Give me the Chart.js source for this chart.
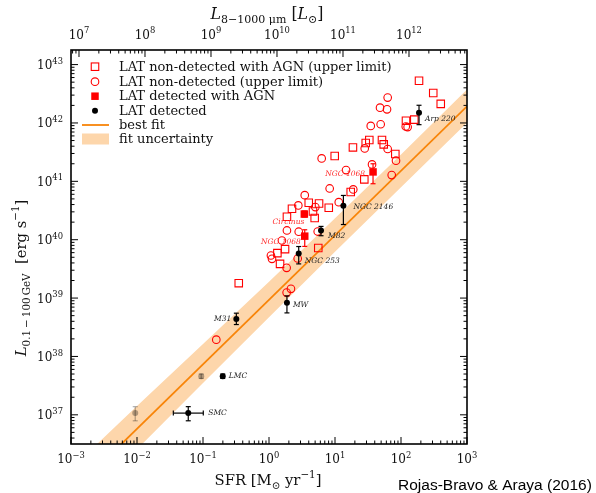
<!DOCTYPE html>
<html>
<head>
<meta charset="utf-8">
<script src="https://cdn.jsdelivr.net/npm/chart.js@4.4.1/dist/chart.umd.min.js"></script>
<style>
  html, body { margin: 0; padding: 0; background: #fff; }
  #wrap { width: 596px; height: 493px; position: relative; }
</style>
</head>
<body>
<div id="wrap"><canvas id="chart"></canvas></div>
<script>
// LAT detected (black points)
const detNames = ['Arp 220', 'NGC 2146', 'M82', 'NGC 253', 'MW', 'M31', 'LMC', 'SMC'];
const detSFR = [187.5, 13.4, 6.14, 2.82, 1.87, 0.32, 0.199, 0.0598];
const detL = [1.49e42, 3.81e40, 1.44e40, 5.8e39, 8.3e38, 4.4e38, 4.57e37, 1.07e37];
const detLlo = [9.35e41, 1.82e40, 1.17e40, 3.85e39, 5.57e38, 3.52e38, 4.2e37, 7.9e36];
const detLhi = [2.01e42, 5.73e40, 1.69e40, 7.64e39, 1.09e39, 5.51e38, 5.0e37, 1.38e37];
const detSFRlo = [null, null, null, null, null, null, null, 0.0355];
const detSFRhi = [null, null, null, null, null, null, null, 0.101];

// LAT detected, shown faded
const greySFR = [0.094, 0.0094];
const greyL = [4.57e37, 1.07e37];
const greyLlo = [4.2e37, 7.9e36];
const greyLhi = [5.0e37, 1.38e37];

// LAT detected with AGN
const agnNames = ['NGC 1068', 'Circinus', 'NGC 1068'];
const agnSFR = [37.7, 3.43, 3.48];
const agnL = [1.45e41, 2.75e40, 1.15e40];
const agnLlo = [9.1e40, 2.45e40, 7.67e39];
const agnLhi = [2.0e41, 3.1e40, 1.48e40];

// LAT non-detected (upper limit)
const ulSFR = [62.8, 48.1, 61.4, 34.8, 49.2, 118, 126, 28.2, 62.8, 6.28, 84, 14.7, 36.4, 72.3, 8.3, 18.9,
  3.48, 11.4, 2.78, 5.03, 1.87, 2.82, 5.47, 1.57, 1.07, 1.11, 1.85, 2.72, 1.85, 2.15, 0.159];
const ulL = [2.72e42, 1.83e42, 1.71e42, 8.9e41, 9.5e41, 8.7e41, 8.5e41, 3.66e41, 3.58e41, 2.47e41, 2.26e41,
  1.56e41, 1.95e41, 1.28e41, 7.55e40, 7.26e40, 5.8e40, 4.4e40, 3.87e40, 3.62e40, 1.44e40, 1.37e40, 1.38e40,
  9.7e39, 5.36e39, 4.7e39, 3.3e39, 4.77e39, 1.24e39, 1.44e39, 1.94e38];

// LAT non-detected with AGN (upper limit)
const ulAgnSFR = [187.5, 308, 400, 119, 159, 33.1, 29.2, 51.5, 54.7, 18.7, 82, 9.9, 27.8, 17.3, 5.73, 4.0,
  8.04, 2.23, 4.64, 1.87, 4.92, 1.75, 1.34, 1.47, 5.58, 0.348];
const ulAgnL = [5.3e42, 3.27e42, 2.12e42, 1.09e42, 1.14e42, 5.1e41, 4.54e41, 5.1e41, 4.3e41, 3.81e41, 2.94e41,
  2.72e41, 1.08e41, 6.55e40, 4.18e40, 4.3e40, 3.52e40, 3.39e40, 3.05e40, 2.47e40, 2.35e40, 6.9e39, 5.9e39,
  3.86e39, 7.2e39, 1.8e39];

// best fit and its uncertainty band
const fitSFR = [1e-3, 1e3];
const fitL = [4.52e35, 1.93e42];
const bandSFR = [1e-3, 1e-2, 1e-1, 1, 1e1, 1e2, 1e3];
const bandHigh = [1.19e36, 1.41e37, 1.64e38, 1.91e39, 2.32e40, 2.88e41, 3.76e42];
const bandLow = [1.80e35, 2.57e36, 3.51e37, 4.68e38, 6.24e39, 7.94e40, 1.01e42];

// axes
const sfrExps = [-3, -2, -1, 0, 1, 2, 3];
const lumExps = [37, 38, 39, 40, 41, 42, 43];
const lirExps = [7, 8, 9, 10, 11, 12];

const RED = '#ff0000';
const ORANGE = '#f88408';
const PEACH = '#fdd6ab';
const SERIF = '"DejaVu Serif", serif';

const pts = (xs, ys) => xs.map((x, i) => ({ x, y: ys[i] }));

function font(size, italic) {
  return (italic ? 'italic ' : '') + size + 'px ' + SERIF;
}

function richText(ctx, parts, x, y, align, size) {
  const small = size * 0.7;
  let w = 0;
  const m = parts.map(([t, mode]) => {
    const s = (mode === 'sub' || mode === 'sup') ? small : size;
    const f = font(s, mode === 'i');
    ctx.font = f;
    const width = ctx.measureText(t).width;
    w += width;
    return { t, f, width, dy: mode === 'sub' ? size * 0.28 : mode === 'sup' ? -size * 0.45 : 0 };
  });
  let cx = align === 'center' ? x - w / 2 : align === 'right' ? x - w : x;
  ctx.textAlign = 'left';
  ctx.textBaseline = 'alphabetic';
  m.forEach(p => { ctx.font = p.f; ctx.fillText(p.t, cx, y + p.dy); cx += p.width; });
  return w;
}

function measureRich(ctx, parts, size) {
  const small = size * 0.7;
  let w = 0;
  parts.forEach(([t, mode]) => {
    const s = (mode === 'sub' || mode === 'sup') ? small : size;
    ctx.font = font(s, mode === 'i');
    w += ctx.measureText(t).width;
  });
  return w;
}

function sizeFor(ctx, parts, target) {
  return 10 * target / measureRich(ctx, parts, 10);
}

const sup = n => String(n).replace('-', '\u2212');

const labelOffsets = {
  det: [[6, 6, 'left'], [10, 1, 'left'], [7, 6, 'left'], [6, 8, 'left'], [6, 2, 'left'], [-5, 0, 'right'], [6, 0, 'left'], [20, 0, 'left']],
  agn: [[-8, 2, 'right'], [0, 8, 'right'], [-4, 6, 'right']]
};

const decor = {
  id: 'decor',
  beforeDatasetDraw(chart, args) {
    const ds = chart.data.datasets[args.index];
    if (!ds.errLo) return;
    const { ctx, scales: { x, y } } = chart;
    ctx.save();
    ctx.strokeStyle = ds.errColor;
    ctx.lineWidth = 1.2;
    const seg = (a, b, c, d) => { ctx.beginPath(); ctx.moveTo(a, b); ctx.lineTo(c, d); ctx.stroke(); };
    ds.data.forEach((p, i) => {
      const px = x.getPixelForValue(p.x);
      const py = y.getPixelForValue(p.y);
      if (ds.errLo[i] != null) {
        const y1 = y.getPixelForValue(ds.errLo[i]);
        const y2 = y.getPixelForValue(ds.errHi[i]);
        seg(px, y1, px, y2);
        seg(px - 2.5, y1, px + 2.5, y1);
        seg(px - 2.5, y2, px + 2.5, y2);
      }
      if (ds.errXLo && ds.errXLo[i] != null) {
        const x1 = x.getPixelForValue(ds.errXLo[i]);
        const x2 = x.getPixelForValue(ds.errXHi[i]);
        seg(x1, py, x2, py);
        seg(x1, py - 2.5, x1, py + 2.5);
        seg(x2, py - 2.5, x2, py + 2.5);
      }
    });
    ctx.restore();
  },
  afterDraw(chart) {
    const { ctx, chartArea: a, scales: { x, y, x2 } } = chart;
    ctx.save();

    // frame
    ctx.strokeStyle = '#000';
    ctx.lineWidth = 1.6;
    ctx.strokeRect(a.left, a.top, a.right - a.left, a.bottom - a.top);

    // ticks
    ctx.lineWidth = 1;
    const tick = (scale, exps, draw) => {
      const lo = exps[0] - 1, hi = exps[exps.length - 1] + 1;
      for (let e = lo; e <= hi; e++) {
        for (let m = 1; m < 10; m++) {
          const v = m * Math.pow(10, e);
          if (v < scale.min * 0.9999 || v > scale.max * 1.0001) continue;
          draw(scale.getPixelForValue(v), m === 1 ? 7 : 3.5);
        }
      }
    };
    const seg = (a1, b1, c1, d1) => { ctx.beginPath(); ctx.moveTo(a1, b1); ctx.lineTo(c1, d1); ctx.stroke(); };
    tick(x, sfrExps, (p, l) => seg(p, a.bottom, p, a.bottom - l));
    tick(x2, lirExps, (p, l) => seg(p, a.top, p, a.top + l));
    tick(y, lumExps, (p, l) => { seg(a.left, p, a.left + l, p); seg(a.right, p, a.right - l, p); });

    // tick labels
    ctx.fillStyle = '#111';
    const ts = 12;
    sfrExps.forEach(e => richText(ctx, [['10', 'n'], [sup(e), 'sup']], x.getPixelForValue(Math.pow(10, e)), 463, 'center', ts));
    lirExps.forEach(e => richText(ctx, [['10', 'n'], [sup(e), 'sup']], x2.getPixelForValue(Math.pow(10, e)), 38.5, 'center', ts));
    lumExps.forEach(e => richText(ctx, [['10', 'n'], [sup(e), 'sup']], a.left - 8, y.getPixelForValue(Math.pow(10, e)) + 4.5, 'right', ts));

    // axis titles
    const bottomT = [['SFR [M', 'n'], ['\u2299', 'sub'], [' yr', 'n'], ['\u22121', 'sup'], [']', 'n']];
    const titleSize = sizeFor(ctx, bottomT, 107);
    richText(ctx, bottomT, 268, 485, 'center', titleSize);
    const topT = [['L', 'i'], ['8\u22121000 \u03bcm', 'sub'], [' [', 'n'], ['L', 'i'], ['\u2299', 'sub'], [']', 'n']];
    richText(ctx, topT, 267, 19, 'center', sizeFor(ctx, topT, 113));
    const leftT = [['L', 'i'], ['0.1\u2009\u2212\u2009100\u2009GeV', 'sub'], ['  [erg s', 'n'], ['\u22121', 'sup'], [']', 'n']];
    ctx.save();
    ctx.translate(26, 278);
    ctx.rotate(-Math.PI / 2);
    richText(ctx, leftT, 0, 0, 'center', titleSize);
    ctx.restore();

    // legend
    const rows = [66.7, 81.7, 96.2, 110.7, 125, 139];
    const mx = 95;
    ctx.strokeStyle = RED;
    ctx.fillStyle = RED;
    ctx.lineWidth = 1.1;
    ctx.strokeRect(mx - 3.75, rows[0] - 3.75, 7.5, 7.5);
    ctx.beginPath(); ctx.arc(mx, rows[1], 3.8, 0, Math.PI * 2); ctx.stroke();
    ctx.fillRect(mx - 3.75, rows[2] - 3.75, 7.5, 7.5);
    ctx.fillStyle = '#000';
    ctx.beginPath(); ctx.arc(mx, rows[3], 3, 0, Math.PI * 2); ctx.fill();
    ctx.strokeStyle = ORANGE; ctx.lineWidth = 1.8;
    seg(82, rows[4], 109, rows[4]);
    ctx.fillStyle = PEACH;
    ctx.fillRect(82, rows[5] - 5.5, 27, 11);
    const legendLabels = [
      'LAT non-detected with AGN (upper limit)',
      'LAT non-detected (upper limit)',
      'LAT detected with AGN',
      'LAT detected',
      'best fit',
      'fit uncertainty'
    ];
    const ls = sizeFor(ctx, [[legendLabels[0], 'n']], 273);
    ctx.fillStyle = '#111';
    ctx.font = font(ls, false);
    ctx.textAlign = 'left';
    ctx.textBaseline = 'middle';
    legendLabels.forEach((t, i) => ctx.fillText(t, 119, rows[i] + 0.5));

    // point labels
    ctx.textBaseline = 'middle';
    ctx.font = font(7.5, true);
    const put = (names, xs, ys, offs, color) => {
      ctx.fillStyle = color;
      names.forEach((n, i) => {
        const [dx, dy, al] = offs[i];
        ctx.textAlign = al;
        ctx.fillText(n, x.getPixelForValue(xs[i]) + dx, y.getPixelForValue(ys[i]) + dy);
      });
    };
    put(detNames, detSFR, detL, labelOffsets.det, '#222');
    put(agnNames, agnSFR, agnL, labelOffsets.agn, '#ff3030');

    // credit
    const credit = 'Rojas-Bravo & Araya (2016)';
    ctx.font = '10px "Liberation Sans", Arial, sans-serif';
    const cs = 10 * 194 / ctx.measureText(credit).width;
    ctx.font = cs + 'px "Liberation Sans", Arial, sans-serif';
    ctx.fillStyle = '#000';
    ctx.textAlign = 'left';
    ctx.textBaseline = 'alphabetic';
    ctx.fillText(credit, 398, 490);

    ctx.restore();
  }
};

const datasets = [
  {
    label: 'LAT detected', data: pts(detSFR, detL),
    pointStyle: 'circle', pointRadius: 3, pointBackgroundColor: '#000', pointBorderColor: '#000', pointBorderWidth: 0,
    errLo: detLlo, errHi: detLhi, errXLo: detSFRlo, errXHi: detSFRhi, errColor: '#000'
  },
  {
    label: 'LAT detected (faded)', data: pts(greySFR, greyL),
    pointStyle: 'circle', pointRadius: 3, pointBackgroundColor: 'rgba(0,0,0,0.3)', pointBorderColor: 'rgba(0,0,0,0)', pointBorderWidth: 0,
    errLo: greyLlo, errHi: greyLhi, errColor: 'rgba(0,0,0,0.3)'
  },
  {
    label: 'LAT detected with AGN', data: pts(agnSFR, agnL),
    pointStyle: 'rect', pointRadius: 5.3, pointBackgroundColor: RED, pointBorderColor: RED, pointBorderWidth: 0,
    errLo: agnLlo, errHi: agnLhi, errColor: RED
  },
  {
    label: 'LAT non-detected (upper limit)', data: pts(ulSFR, ulL),
    pointStyle: 'circle', pointRadius: 3.8, pointBackgroundColor: 'rgba(0,0,0,0)', pointBorderColor: RED, pointBorderWidth: 1.1
  },
  {
    label: 'LAT non-detected with AGN (upper limit)', data: pts(ulAgnSFR, ulAgnL),
    pointStyle: 'rect', pointRadius: 5.3, pointBackgroundColor: 'rgba(0,0,0,0)', pointBorderColor: RED, pointBorderWidth: 1.1
  },
  {
    type: 'line', label: 'best fit', data: pts(fitSFR, fitL),
    borderColor: ORANGE, borderWidth: 1.8, pointRadius: 0, fill: false
  },
  {
    type: 'line', label: 'fit uncertainty', data: pts(bandSFR, bandHigh),
    borderColor: 'rgba(0,0,0,0)', borderWidth: 0, pointRadius: 0, backgroundColor: PEACH, fill: '+1'
  },
  {
    type: 'line', label: 'fit uncertainty low', data: pts(bandSFR, bandLow),
    borderColor: 'rgba(0,0,0,0)', borderWidth: 0, pointRadius: 0, fill: false
  }
];

new Chart(document.getElementById('chart'), {
  type: 'scatter',
  data: { datasets },
  options: {
    responsive: true,
    maintainAspectRatio: false,
    animation: false,
    devicePixelRatio: 1,
    events: [],
    layout: { padding: { left: 71, top: 50, right: 129, bottom: 49 } },
    plugins: { legend: { display: false }, tooltip: { enabled: false } },
    scales: {
      x: { type: 'logarithmic', position: 'bottom', min: 1e-3, max: 1e3, display: false },
      x2: { type: 'logarithmic', axis: 'x', position: 'top', min: Math.pow(10, 6.879), max: Math.pow(10, 12.879), display: false },
      y: { type: 'logarithmic', position: 'left', min: Math.pow(10, 36.5), max: Math.pow(10, 43.25), display: false }
    }
  },
  plugins: [decor]
});
</script>
</body>
</html>
